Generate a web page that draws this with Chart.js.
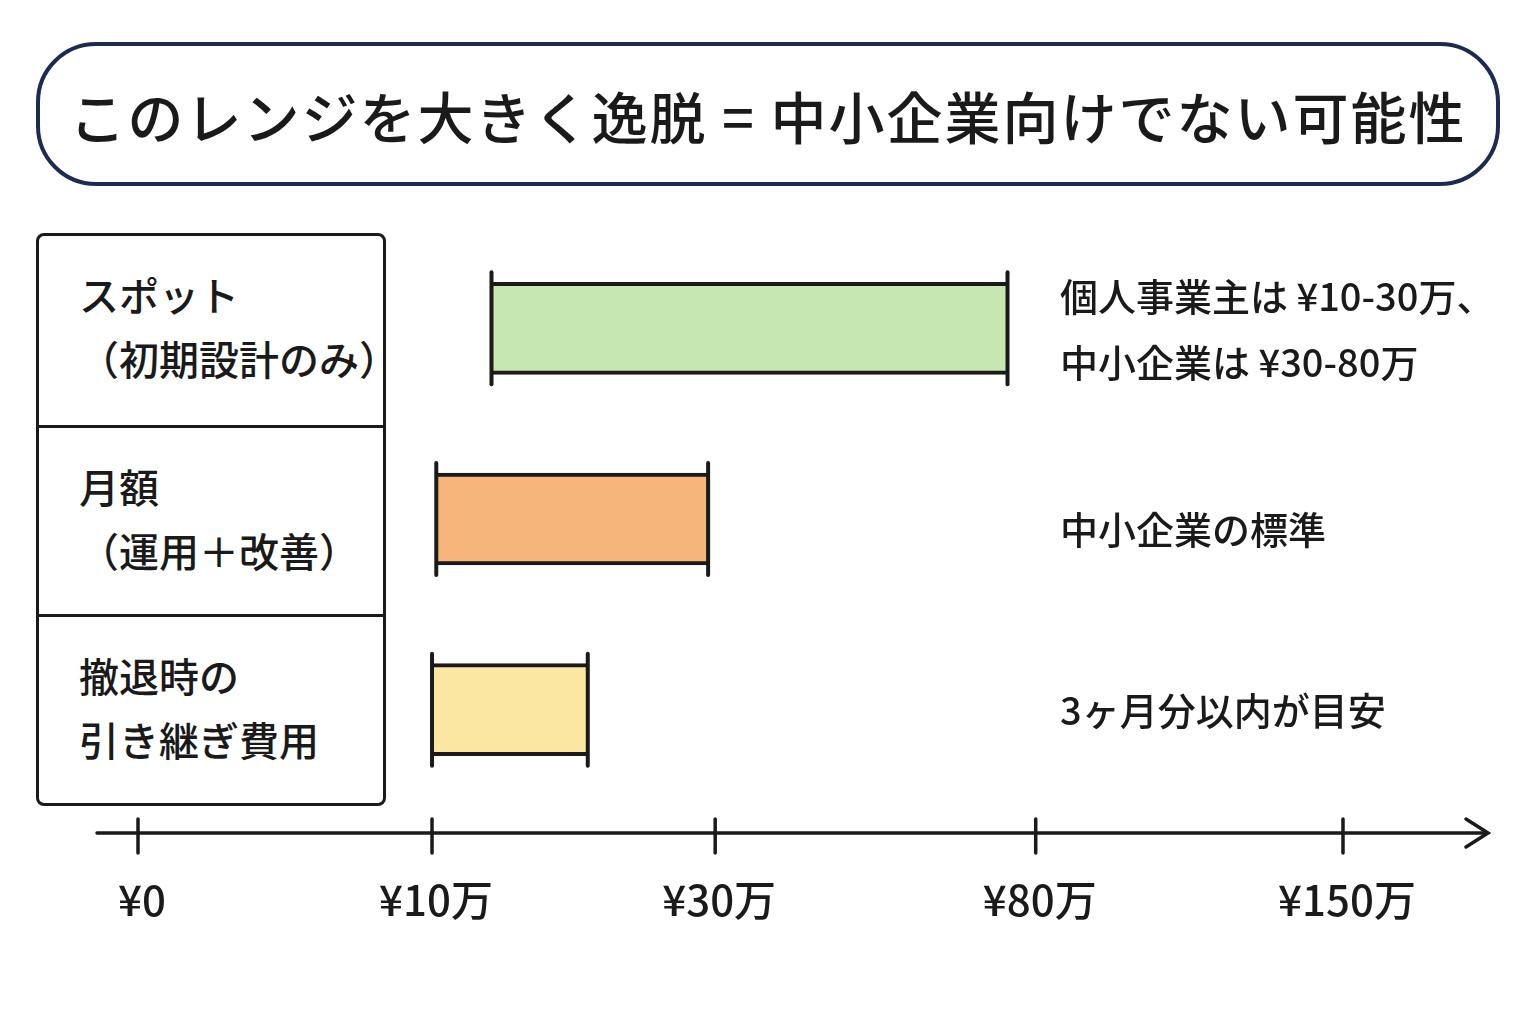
<!DOCTYPE html>
<html><head><meta charset="utf-8">
<script src="https://cdn.jsdelivr.net/npm/chart.js@4/dist/chart.umd.min.js"></script>
<style>
body{margin:0;width:1536px;height:1024px;background:#fff;font-family:"Noto Sans CJK JP",sans-serif;overflow:hidden;position:relative}
#title{position:absolute;left:36px;top:42px;width:1464px;height:144px;border:4px solid #1c2c50;border-radius:60px;box-sizing:border-box;
 display:flex;align-items:center;justify-content:center;font-size:56px;font-weight:500;color:#1a1a1a;letter-spacing:2px}
#box{position:absolute;left:36px;top:233px;width:350px;height:573px;border:3px solid #1a1a1a;border-radius:8px;box-sizing:border-box}
.cell{height:33.33%;box-sizing:border-box;padding:26px 0 0 40px;font-size:40px;font-weight:500;line-height:64px;color:#1a1a1a}
.cell+.cell{border-top:3px solid #1a1a1a}
.note{position:absolute;left:1060px;font-size:38px;font-weight:500;line-height:66px;color:#1a1a1a}
canvas{position:absolute;left:0;top:0}
</style></head><body>
<div id="title">このレンジを大きく逸脱 = 中小企業向けでない可能性</div>
<div id="box"></div>
<canvas id="c" width="1536" height="1024"></canvas>
<script>
const categories = ["スポット\n（初期設計のみ）", "月額\n（運用＋改善）", "撤退時の\n引き継ぎ費用"];
const rangeLow = [14.2, 10.3, 10];     // 万円
const rangeHigh = [75.6, 29.5, 21];
const notes = ["個人事業主は ¥10-30万、\n中小企業は ¥30-80万", "中小企業の標準", "3ヶ月分以内が目安"];
const tickValues = [0, 10, 30, 80, 150];
const tickLabels = ["¥0", "¥10万", "¥30万", "¥80万", "¥150万"];
const tickFractions = [0, 0.244, 0.479, 0.745, 1];
const colors = ["#c6e6b2", "#f6b57a", "#fbe7a2"];

// left label box and right notes
const box = document.getElementById('box');
categories.forEach(c => {
    const d = document.createElement('div');
    d.className = 'cell';
    d.innerHTML = c.replace('\n', '<br>');
    box.appendChild(d);
});
const noteTops = [262, 495, 676];
notes.forEach((n, i) => {
    const d = document.createElement('div');
    d.className = 'note';
    d.style.top = noteTops[i] + 'px';
    d.innerHTML = n.replace('\n', '<br>');
    document.body.appendChild(d);
});

// non-linear axis: piecewise between ticks
class PiecewiseScale extends Chart.LinearScale {
    getPixelForValue(v) {
        let f = 1;
        for (let i = 1; i < tickValues.length; i++) {
            if (v <= tickValues[i]) {
                const t = (v - tickValues[i - 1]) / (tickValues[i] - tickValues[i - 1]);
                f = tickFractions[i - 1] + t * (tickFractions[i] - tickFractions[i - 1]);
                break;
            }
        }
        return this.getPixelForDecimal(f);
    }
}
PiecewiseScale.id = 'piecewise';
PiecewiseScale.defaults = Chart.LinearScale.defaults;
Chart.register(PiecewiseScale);

const decor = {
    id: 'decor',
    afterDatasetsDraw(chart) {
        const ctx = chart.ctx;
        const xs = chart.scales.x;
        ctx.save();
        ctx.strokeStyle = '#1a1a1a';
        ctx.lineCap = 'round';
        // end caps on bars
        ctx.lineWidth = 4;
        chart.getDatasetMeta(0).data.forEach(bar => {
            const h = bar.height / 2 + 10;
            [bar.base, bar.x].forEach(x => {
                ctx.beginPath(); ctx.moveTo(x, bar.y - h); ctx.lineTo(x, bar.y + h); ctx.stroke();
            });
        });
        // axis with arrow
        const y = 833;
        ctx.lineWidth = 3.5;
        ctx.beginPath(); ctx.moveTo(97, y); ctx.lineTo(1486, y); ctx.stroke();
        ctx.beginPath(); ctx.moveTo(1466, y - 14); ctx.lineTo(1488, y); ctx.lineTo(1466, y + 14); ctx.stroke();
        ctx.fillStyle = '#1a1a1a';
        ctx.font = '500 42px "Noto Sans CJK JP"';
        ctx.textAlign = 'center';
        ctx.textBaseline = 'middle';
        tickValues.forEach((v, i) => {
            const x = xs.getPixelForValue(v);
            ctx.beginPath(); ctx.moveTo(x, y - 14); ctx.lineTo(x, y + 20); ctx.stroke();
            ctx.fillText(tickLabels[i], x + 4, 900);
        });
        ctx.restore();
    }
};

new Chart(document.getElementById('c').getContext('2d'), {
    type: 'bar',
    data: {
        labels: categories,
        datasets: [{
            data: rangeLow.map((lo, i) => [lo, rangeHigh[i]]),
            backgroundColor: colors,
            borderColor: '#1a1a1a',
            borderWidth: {top: 4, bottom: 4, left: 0, right: 0},
            borderSkipped: false,
            barThickness: 92
        }]
    },
    options: {
        indexAxis: 'y',
        responsive: false,
        animation: false,
        layout: {padding: {left: 138, right: 193, top: 233, bottom: 219}},
        scales: {
            x: {type: 'piecewise', min: 0, max: 150, display: false},
            y: {display: false}
        },
        plugins: {legend: {display: false}, tooltip: {enabled: false}}
    },
    plugins: [decor]
});
</script>
</body></html>
